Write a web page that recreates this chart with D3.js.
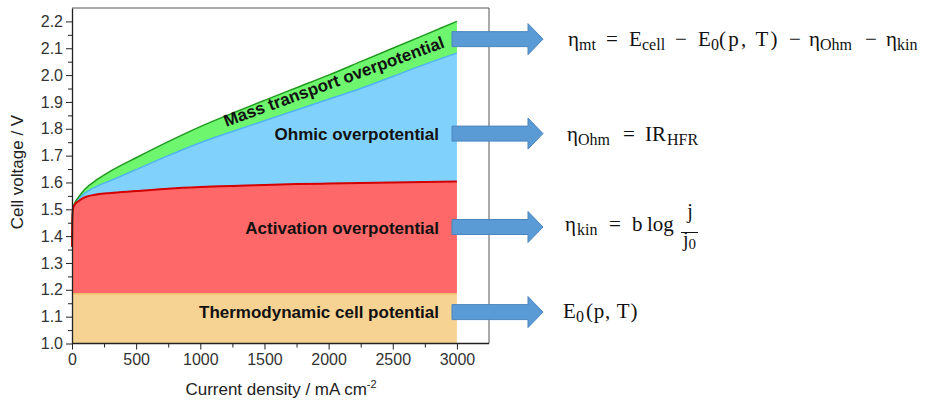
<!DOCTYPE html>
<html>
<head>
<meta charset="utf-8">
<script src="https://cdn.jsdelivr.net/npm/d3@7"></script>
<style>
  body { margin: 0; background: #fff; }
  svg { display: block; }
</style>
</head>
<body>
<div id="chart"></div>
<script>
// current density (mA cm-2) and the stacked voltage curves
const currentDensity = [0, 2, 5, 10, 25, 50, 100, 200, 300, 500, 750, 1000, 1250, 1500, 1750, 2000, 2250, 2500, 2750, 3000];
const thermoVoltage = 1.185;
const kineticVoltage = [1.36, 1.45, 1.49, 1.505, 1.52, 1.53, 1.545, 1.556, 1.561, 1.568, 1.577, 1.583, 1.587, 1.591, 1.594, 1.596, 1.598, 1.600, 1.602, 1.604];
const ohmicVoltage = [1.36, 1.45, 1.49, 1.507, 1.524, 1.538, 1.56, 1.587, 1.607, 1.648, 1.70, 1.748, 1.79, 1.83, 1.87, 1.91, 1.95, 1.995, 2.04, 2.082];
const cellVoltage = [1.36, 1.45, 1.49, 1.508, 1.527, 1.545, 1.575, 1.612, 1.642, 1.692, 1.752, 1.808, 1.858, 1.906, 1.953, 2.0, 2.05, 2.10, 2.15, 2.20];

const xTicks = [0, 500, 1000, 1500, 2000, 2500, 3000];
const yTicks = [1.0, 1.1, 1.2, 1.3, 1.4, 1.5, 1.6, 1.7, 1.8, 1.9, 2.0, 2.1, 2.2];

// band labels and the voltage their arrow points from
const bandLabels = ['Ohmic overpotential', 'Activation overpotential', 'Thermodynamic cell potential'];
const bandLabelVoltage = [1.782, 1.431, 1.116];
const arrowVoltage = [2.134, 1.782, 1.434, 1.117];

const width = 935, height = 401;
const margin = {left: 72, right: 446, top: 8, bottom: 57.5};

const svg = d3.select('#chart').append('svg')
    .attr('width', width)
    .attr('height', height);

const x = d3.scaleLinear().domain([0, 3250]).range([margin.left, width - margin.right]);
const y = d3.scaleLinear().domain([1.0, 2.25]).range([height - margin.bottom, margin.top]);

const pts = currentDensity.map(function (j, i) {
    return {j: j, kin: kineticVoltage[i], ohm: ohmicVoltage[i], cell: cellVoltage[i]};
});

const curve = d3.curveMonotoneX;

// filled bands
svg.append('path')
    .datum(pts)
    .attr('fill', '#f6d393')
    .attr('d', d3.area().x(d => x(d.j)).y0(y(1.0)).y1(y(thermoVoltage)));

svg.append('path')
    .datum(pts)
    .attr('fill', '#fe6868')
    .attr('d', d3.area().curve(curve).x(d => x(d.j)).y0(y(thermoVoltage)).y1(d => y(d.kin)));

svg.append('path')
    .datum(pts)
    .attr('fill', '#80d2fc')
    .attr('d', d3.area().curve(curve).x(d => x(d.j)).y0(d => y(d.kin)).y1(d => y(d.ohm)));

svg.append('path')
    .datum(pts)
    .attr('fill', '#6ff66f')
    .attr('d', d3.area().curve(curve).x(d => x(d.j)).y0(d => y(d.ohm)).y1(d => y(d.cell)));

// boundary lines
svg.append('line')
    .attr('x1', x(0)).attr('x2', x(3000))
    .attr('y1', y(thermoVoltage)).attr('y2', y(thermoVoltage))
    .attr('stroke', '#f0bd6a').attr('stroke-width', 1.5);

svg.append('path')
    .datum(pts)
    .attr('fill', 'none').attr('stroke', '#4fb3ef').attr('stroke-width', 1.5)
    .attr('d', d3.line().curve(curve).x(d => x(d.j)).y(d => y(d.ohm)));

svg.append('path')
    .datum(pts)
    .attr('fill', 'none').attr('stroke', '#1f9a1f').attr('stroke-width', 1.5)
    .attr('d', d3.line().curve(curve).x(d => x(d.j)).y(d => y(d.cell)));

svg.append('path')
    .datum(pts)
    .attr('fill', 'none').attr('stroke', '#d40000').attr('stroke-width', 2)
    .attr('d', d3.line().curve(curve).x(d => x(d.j)).y(d => y(d.kin)));

// frame (top + right)
svg.append('path')
    .attr('fill', 'none').attr('stroke', '#555').attr('stroke-width', 1)
    .attr('d', `M${x(0)},${y(2.25)}H${x(3250)}V${y(1.0)}`);

// axes
const yMinor = d3.range(1.05, 2.2, 0.1);
const xMinor = d3.range(250, 3000, 500);

svg.append('g')
    .attr('transform', `translate(${x(0)},0)`)
    .call(d3.axisLeft(y).tickValues(yMinor).tickSize(4).tickFormat(''))
    .call(g => g.select('.domain').remove())
    .selectAll('line').attr('stroke', '#222');

svg.append('g')
    .attr('transform', `translate(0,${y(1.0)})`)
    .call(d3.axisBottom(x).tickValues(xMinor).tickSize(4).tickFormat(''))
    .call(g => g.select('.domain').remove())
    .selectAll('line').attr('stroke', '#222');

const yAxis = svg.append('g')
    .attr('transform', `translate(${x(0)},0)`)
    .call(d3.axisLeft(y).tickValues(yTicks).tickSize(6).tickPadding(3).tickSizeOuter(0).tickFormat(d3.format('.1f')));
yAxis.select('.domain').attr('stroke', '#222').attr('stroke-width', 1.3);
yAxis.selectAll('line').attr('stroke', '#222');
yAxis.selectAll('text')
    .attr('font-family', 'Arial, "Liberation Sans", sans-serif')
    .attr('font-size', 16).attr('fill', '#333');

const xAxis = svg.append('g')
    .attr('transform', `translate(0,${y(1.0)})`)
    .call(d3.axisBottom(x).tickValues(xTicks).tickSize(6).tickPadding(4).tickSizeOuter(0).tickFormat(d3.format('d')));
xAxis.select('.domain').attr('stroke', '#222').attr('stroke-width', 1.3)
    .attr('d', `M${x(0)},0H${x(3250)}`);
xAxis.selectAll('line').attr('stroke', '#222');
xAxis.selectAll('text')
    .attr('font-family', 'Arial, "Liberation Sans", sans-serif')
    .attr('font-size', 16).attr('fill', '#333');

// axis titles
svg.append('text')
    .attr('transform', `translate(22.5,172) rotate(-90)`)
    .attr('text-anchor', 'middle')
    .attr('font-family', 'Arial, "Liberation Sans", sans-serif')
    .attr('font-size', 17).attr('fill', '#222')
    .text('Cell voltage / V');

const xt = svg.append('text')
    .attr('x', 281).attr('y', 395)
    .attr('text-anchor', 'middle')
    .attr('font-family', 'Arial, "Liberation Sans", sans-serif')
    .attr('font-size', 17).attr('fill', '#222');
xt.append('tspan').text('Current density / mA cm');
xt.append('tspan').attr('dy', -7).attr('font-size', 11).text('-2');

// band labels
svg.append('g')
    .selectAll('text')
    .data(bandLabels)
    .enter()
    .append('text')
    .attr('x', x(2860))
    .attr('y', (d, i) => y(bandLabelVoltage[i]))
    .attr('dy', '0.35em')
    .attr('text-anchor', 'end')
    .attr('font-family', 'Arial, "Liberation Sans", sans-serif')
    .attr('font-weight', 'bold')
    .attr('font-size', 17)
    .attr('fill', '#111')
    .text(d => d);

// rotated label inside the mass transport band
const mtJ = 2040;
const mtV = (cellVoltage[15] + ohmicVoltage[15]) / 2 + 0.022;
svg.append('text')
    .attr('transform', `translate(${x(mtJ)},${y(mtV)}) rotate(-20)`)
    .attr('dy', '0.36em')
    .attr('text-anchor', 'middle')
    .attr('font-family', 'Arial, "Liberation Sans", sans-serif')
    .attr('font-weight', 'bold')
    .attr('font-size', 17)
    .attr('fill', '#111')
    .text('Mass transport overpotential');

// arrows
const ax0 = 452, axHead = 528, axTip = 543, bodyH = 7.5, headH = 15.5;
svg.append('g')
    .selectAll('path')
    .data(arrowVoltage)
    .enter()
    .append('path')
    .attr('d', function (v) {
        const cy = y(v);
        return `M${ax0},${cy - bodyH}H${axHead}V${cy - headH}L${axTip},${cy}L${axHead},${cy + headH}V${cy + bodyH}H${ax0}Z`;
    })
    .attr('fill', '#5b9bd5')
    .attr('stroke', '#4a86bd')
    .attr('stroke-width', 1);

// equations: each piece is [x, text, subscript?, letter-spacing]
const serif = '"Liberation Serif", "DejaVu Serif", serif';
function eq(pieces, baseY) {
    const g = svg.append('g')
        .attr('font-family', serif)
        .attr('fill', '#111');
    pieces.forEach(function (p) {
        g.append('text')
            .attr('x', p[0])
            .attr('y', p[2] ? baseY + 4 : baseY)
            .attr('font-size', p[2] ? 16 : 21)
            .attr('letter-spacing', p[3] || 0)
            .text(p[1]);
    });
    return g;
}

eq([[568, '\u03b7'], [579, 'mt', 1], [606, '='], [629, 'E'], [642, 'cell', 1], [675, '\u2212'],
    [698, 'E'], [711, '0', 1], [719, '(p, T)', 0, 2.2], [789, '\u2212'],
    [809, '\u03b7'], [820, 'Ohm', 1], [865, '\u2212'], [886, '\u03b7'], [897, 'kin', 1]],
    y(arrowVoltage[0]) + 7);
eq([[567, '\u03b7'], [578, 'Ohm', 1], [623, '='], [645, 'IR'], [667, 'HFR', 1]],
    y(arrowVoltage[1]) + 7);
eq([[565, '\u03b7'], [577, 'kin', 1], [609, '='], [632, 'b'], [647, 'log']],
    y(arrowVoltage[2]) + 4);
eq([[563, 'E'], [576, '0', 1], [586, '(p, T)', 0, 0.8]],
    y(arrowVoltage[3]) + 6);

// fraction j / j0
const fy = y(arrowVoltage[2]);
svg.append('text')
    .attr('x', 690).attr('y', fy - 9)
    .attr('text-anchor', 'middle')
    .attr('font-family', serif).attr('font-size', 20).attr('fill', '#111')
    .text('j');
svg.append('line')
    .attr('x1', 681).attr('x2', 698)
    .attr('y1', fy + 5.5).attr('y2', fy + 5.5)
    .attr('stroke', '#111').attr('stroke-width', 1);
const j0 = svg.append('text')
    .attr('x', 683).attr('y', fy + 19)
    .attr('font-family', serif).attr('font-size', 20).attr('fill', '#111');
j0.append('tspan').text('j');
j0.append('tspan').attr('dy', 3).attr('font-size', 15).text('0');
</script>
</body>
</html>
